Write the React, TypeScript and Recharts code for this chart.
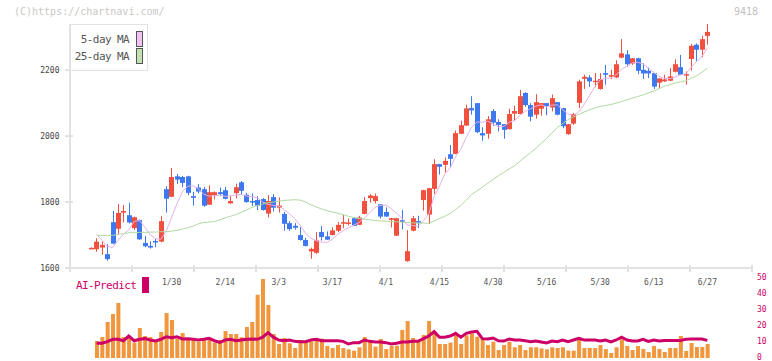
import React from 'react';
import { ComposedChart, Bar, Line, XAxis, YAxis } from 'recharts';

// trading days, 2025
const dates = [
  '1/8', '1/9', '1/10', '1/14', '1/15', '1/16', '1/17', '1/20', '1/21', '1/22', '1/23', '1/24', '1/27', '1/28', '1/29', '1/30', '1/31',
  '2/3', '2/4', '2/5', '2/6', '2/7', '2/10', '2/12', '2/13', '2/14', '2/17', '2/18', '2/19', '2/20', '2/21', '2/25', '2/26', '2/27', '2/28',
  '3/3', '3/4', '3/5', '3/6', '3/7', '3/10', '3/11', '3/12', '3/13', '3/14', '3/17', '3/18', '3/19', '3/21', '3/24', '3/25', '3/26', '3/27', '3/28', '3/31',
  '4/1', '4/2', '4/3', '4/4', '4/7', '4/8', '4/9', '4/10', '4/11', '4/14', '4/15', '4/16', '4/17', '4/18', '4/21', '4/22', '4/23', '4/24', '4/25', '4/28', '4/30',
  '5/1', '5/2', '5/7', '5/8', '5/9', '5/12', '5/13', '5/14', '5/15', '5/16', '5/19', '5/20', '5/21', '5/22', '5/23', '5/26', '5/27', '5/28', '5/29', '5/30',
  '6/2', '6/3', '6/4', '6/5', '6/6', '6/9', '6/10', '6/11', '6/12', '6/13', '6/16', '6/17', '6/18', '6/19', '6/20', '6/23', '6/24', '6/25', '6/26', '6/27',
];

const dateTicks = ['1/30', '2/14', '3/3', '3/17', '4/1', '4/15', '4/30', '5/16', '5/30', '6/13', '6/27'];
const priceTicks = [1600, 1800, 2000, 2200];
const volTicks = [0, 10, 20, 30, 40, 50];
const gridTicks = [0, 1, 2, 3, 4, 5, 6, 7, 8, 9, 10, 11];

const open = [
  1660, 1657, 1662, 1642, 1739, 1719, 1768, 1760, 1721, 1745,
  1676, 1667, 1682, 1680, 1839, 1816, 1878, 1876, 1878, 1818,
  1844, 1839, 1792, 1821, 1830, 1836, 1796, 1827, 1860, 1822,
  1803, 1806, 1809, 1765, 1815, 1783, 1764, 1736, 1728, 1700,
  1685, 1650, 1646, 1709, 1696, 1700, 1713, 1737, 1736, 1751,
  1731, 1764, 1812, 1803, 1793, 1770, 1746, 1698, 1745, 1621,
  1713, 1742, 1806, 1762, 1840, 1915, 1913, 1945, 1946, 2007,
  2032, 2085, 2100, 2009, 2007, 2076, 2043, 2036, 2021, 2068,
  2067, 2131, 2094, 2065, 2083, 2100, 2087, 2103, 2085, 2006,
  2038, 2101, 2174, 2178, 2166, 2143, 2191, 2180, 2178, 2238,
  2248, 2220, 2236, 2201, 2198, 2191, 2162, 2166, 2168, 2195,
  2209, 2186, 2234, 2277, 2262, 2304,
];
const high = [
  1663, 1690, 1680, 1672, 1773, 1794, 1791, 1798, 1756, 1747,
  1697, 1681, 1688, 1757, 1848, 1903, 1885, 1879, 1880, 1831,
  1854, 1846, 1851, 1832, 1844, 1846, 1818, 1856, 1864, 1828,
  1826, 1818, 1812, 1821, 1824, 1814, 1770, 1742, 1736, 1724,
  1691, 1662, 1709, 1727, 1711, 1724, 1739, 1761, 1750, 1753,
  1758, 1815, 1824, 1826, 1793, 1784, 1752, 1752, 1776, 1715,
  1758, 1758, 1837, 1843, 1930, 1916, 1935, 1973, 2017, 2047,
  2095, 2121, 2100, 2027, 2061, 2082, 2051, 2037, 2083, 2092,
  2140, 2133, 2100, 2127, 2100, 2101, 2126, 2103, 2085, 2037,
  2070, 2171, 2186, 2185, 2191, 2191, 2216, 2201, 2230, 2294,
  2261, 2237, 2238, 2221, 2208, 2191, 2175, 2186, 2206, 2233,
  2246, 2196, 2279, 2281, 2304, 2340,
];
const low = [
  1659, 1649, 1640, 1622, 1672, 1703, 1738, 1735, 1715, 1685,
  1663, 1659, 1663, 1678, 1768, 1815, 1855, 1845, 1821, 1789,
  1826, 1786, 1791, 1808, 1818, 1808, 1795, 1811, 1823, 1798,
  1788, 1776, 1774, 1753, 1771, 1768, 1713, 1713, 1716, 1683,
  1665, 1628, 1643, 1683, 1685, 1699, 1709, 1721, 1729, 1727,
  1730, 1763, 1798, 1796, 1750, 1756, 1723, 1697, 1717, 1619,
  1711, 1721, 1774, 1733, 1824, 1883, 1889, 1906, 1945, 2006,
  2031, 2065, 2009, 1986, 1992, 2031, 2014, 1992, 2020, 2046,
  2066, 2089, 2045, 2053, 2062, 2063, 2075, 2063, 2024, 2004,
  2034, 2085, 2143, 2149, 2148, 2141, 2156, 2173, 2176, 2236,
  2211, 2216, 2188, 2173, 2176, 2143, 2143, 2164, 2167, 2193,
  2185, 2156, 2199, 2228, 2239, 2277,
];
const close = [
  1661, 1680, 1670, 1627, 1674, 1767, 1773, 1738, 1754, 1687,
  1666, 1662, 1678, 1742, 1810, 1876, 1868, 1858, 1828, 1813,
  1832, 1789, 1830, 1830, 1824, 1810, 1803, 1845, 1834, 1800,
  1799, 1789, 1776, 1803, 1783, 1789, 1734, 1718, 1722, 1685,
  1667, 1658, 1684, 1694, 1686, 1714, 1731, 1739, 1738, 1728,
  1753, 1803, 1820, 1818, 1756, 1756, 1751, 1751, 1740, 1651,
  1751, 1738, 1836, 1842, 1915, 1907, 1925, 1931, 2009, 2033,
  2084, 2078, 2012, 2002, 2051, 2041, 2034, 2019, 2067, 2076,
  2121, 2094, 2059, 2103, 2100, 2091, 2115, 2065, 2030, 2036,
  2067, 2166, 2180, 2166, 2168, 2173, 2186, 2185, 2218, 2251,
  2218, 2236, 2198, 2190, 2190, 2150, 2175, 2172, 2181, 2218,
  2186, 2188, 2274, 2262, 2294, 2316,
];
const ma5 = [
  null, 1702, 1684, 1666, 1662, 1684, 1702, 1716, 1741, 1744,
  1724, 1701, 1689, 1687, 1712, 1754, 1795, 1831, 1848, 1849,
  1840, 1824, 1818, 1819, 1821, 1817, 1819, 1822, 1823, 1818,
  1816, 1813, 1800, 1793, 1790, 1788, 1777, 1765, 1749, 1730,
  1705, 1690, 1683, 1678, 1678, 1687, 1702, 1713, 1722, 1730,
  1738, 1752, 1768, 1784, 1790, 1791, 1780, 1766, 1751, 1730,
  1729, 1726, 1743, 1764, 1816, 1848, 1885, 1904, 1937, 1961,
  1996, 2027, 2043, 2042, 2045, 2037, 2028, 2029, 2042, 2047,
  2063, 2075, 2083, 2091, 2095, 2089, 2094, 2095, 2080, 2067,
  2063, 2073, 2096, 2123, 2149, 2171, 2175, 2176, 2186, 2203,
  2212, 2222, 2224, 2219, 2206, 2193, 2181, 2175, 2174, 2179,
  2186, 2189, 2209, 2226, 2241, 2267,
];
const ma25 = [
  null, 1699, 1699, 1698, 1699, 1702, 1704, 1707, 1707, 1708,
  1708, 1709, 1709, 1710, 1710, 1712, 1714, 1718, 1722, 1727,
  1734, 1738, 1739, 1741, 1746, 1752, 1757, 1762, 1769, 1776,
  1784, 1789, 1794, 1798, 1800, 1803, 1805, 1806, 1807, 1806,
  1800, 1792, 1785, 1779, 1774, 1770, 1766, 1762, 1757, 1753,
  1750, 1748, 1746, 1744, 1743, 1742, 1741, 1740, 1739, 1738,
  1737, 1736, 1736, 1736, 1742, 1750, 1757, 1765, 1777, 1790,
  1806, 1823, 1834, 1845, 1857, 1868, 1880, 1890, 1900, 1910,
  1923, 1937, 1950, 1963, 1978, 1993, 2010, 2026, 2038, 2050,
  2058, 2066, 2073, 2080, 2085, 2090, 2093, 2096, 2100, 2105,
  2110, 2115, 2120, 2125, 2131, 2137, 2144, 2151, 2156, 2161,
  2165, 2168, 2175, 2183, 2194, 2206,
];
const volume = [
  null, 10.6, 13.1, 22.5, 27.5, 34.4, 13.1, 13, 9.6, 18.75,
  13.75, 13.1, 11.25, 16.25, 28.1, 23.75, 12.1, 15.6, 12.1, 11.25,
  10.2, 12.1, 11.25, 9.6, 11.25, 16.9, 15, 15, 13, 19.4,
  22.5, 39.6, 49.4, 33.1, 15, 8.75, 12.5, 9.2, 6.25, 11.25,
  10.4, 10.4, 12.3, 12.1, 7.5, 6.25, 8.1, 6.25, 5.4, 4.6,
  6.7, 13.1, 10.4, 7.1, 11.9, 5.6, 7.5, 7.7, 17.5, 23.1,
  12.5, 10.4, 14.4, 23.1, 16.9, 8.75, 8.75, 9.6, 14.4, 8.75,
  14.2, 15.4, 13.3, 12.1, 8.1, 10.2, 5, 8.1, 10.2, 6.7,
  8.1, 5, 6.7, 6.7, 6, 5.4, 6.7, 6.25, 6.7, 4.6,
  4.6, 11.25, 6.25, 6.25, 6.25, 8.1, 5.6, 3.1, 6.7, 11.7,
  7.5, 5, 7.5, 5.6, 3.75, 7.5, 5.6, 3.75, 6.25, 6.25,
  13.75, 4.4, 9.4, 6.9, 6.9, 8.75,
];
const aiPredict = [
  null, 9.2, 9.2, 10.2, 11.7, 11.7, 10.8, 13.75, 10.8, 11.7,
  12.1, 11.25, 10.6, 11.7, 13.3, 12.7, 13.3, 11.9, 12.1, 11.7,
  11.25, 11.7, 12.3, 10.8, 9.8, 11.25, 11.7, 10.8, 11.25, 11.7,
  11.9, 11.7, 13, 15.8, 13, 11.25, 10.8, 11.25, 10.4, 10.2,
  10.2, 11.25, 11.7, 10.8, 10.8, 10.8, 10.8, 10.4, 8.75, 9.6,
  9.6, 11.25, 10.4, 10, 10, 9.6, 8.75, 9.2, 10, 10,
  10.4, 10.4, 12.1, 13.75, 16.5, 13, 13, 13.75, 15.4, 13,
  15.4, 16.25, 16.7, 12.1, 11.9, 12.5, 10.8, 10.6, 11.9, 11.25,
  11.25, 10.8, 10.2, 10.6, 10, 9.4, 10.6, 10.2, 11.25, 10.2,
  11.25, 12.3, 11.25, 11.25, 11.25, 10.6, 11.25, 10, 11.25, 13,
  11.25, 10.6, 10.6, 11.7, 10.4, 11.25, 10.6, 11, 11, 11,
  11, 11.7, 11.9, 11.9, 11.9, 11,
];

const rows = dates.map((date, i) => ({
  date,
  open: open[i],
  high: high[i],
  low: low[i],
  close: close[i],
  ma5: ma5[i],
  ma25: ma25[i],
  volume: volume[i],
  ai: aiPredict[i],
}));

const RED = '#f2503e';
const BLUE = '#3d78f0';
const AXIS = '#e2e2e2';
const MAGENTA = '#cc0066';
const MONO = '"DejaVu Sans Mono", "Liberation Mono", monospace';
const PAD = { left: 18.6, right: 42 };

function Candle(props: any) {
  const { x, y, width, height, payload } = props;
  const { open: o, close: c, high: h, low: l } = payload;
  const cx = Math.round(x + width / 2);
  const k = h > l ? height / (h - l) : 0;
  const yOf = (v: number) => y + (h - v) * k;
  const color = c >= o ? RED : BLUE;
  const top = yOf(Math.max(o, c));
  const bot = yOf(Math.min(o, c));
  return (
    <g>
      <line x1={cx + 0.5} x2={cx + 0.5} y1={y} y2={y + height} stroke={color} strokeWidth={1} />
      <rect x={cx - 2} y={top} width={5} height={Math.max(bot - top, 1.5)} fill={color} />
    </g>
  );
}

function GridTick(props: any) {
  const { x, y } = props;
  return <line x1={x} x2={x} y1={y - 4} y2={y + 3} stroke={AXIS} strokeWidth={2} />;
}

function PriceTick(props: any) {
  const { x, y, payload } = props;
  return (
    <g>
      <line x1={x - 5} x2={x + 3} y1={y} y2={y} stroke={AXIS} strokeWidth={2} />
      <text x={x - 10.5} y={y} dy="0.35em" textAnchor="end" fontSize={8} fill="#444" fontFamily={MONO}>
        {payload.value}
      </text>
    </g>
  );
}

function VolTick(props: any) {
  const { x, y, payload } = props;
  return (
    <text x={x} y={y} dy={2.3} textAnchor="start" fontSize={8} fill={MAGENTA} fontFamily={MONO}>
      {payload.value}
    </text>
  );
}

const abs = (s: React.CSSProperties): React.CSSProperties => ({ position: 'absolute', ...s });

export default function App() {
  return (
    <div style={abs({ left: 0, top: 0, width: 772, height: 361, background: '#fff', overflow: 'hidden' })}>
      <div style={abs({ left: 0, top: 0 })}>
        <ComposedChart width={772} height={361} data={rows} margin={{ top: 278, right: 0, bottom: 3, left: 70 }}>
          <XAxis dataKey="date" hide height={0} padding={PAD} />
          <YAxis
            orientation="right"
            domain={[0, 50]}
            ticks={volTicks}
            interval={0}
            width={20}
            axisLine={false}
            tickLine={false}
            tickSize={0}
            tickMargin={5}
            tick={VolTick}
          />
          <Bar dataKey="volume" fill="#f0963c" barSize={4} isAnimationActive={false} />
          <Line dataKey="ai" stroke={MAGENTA} strokeWidth={3} dot={false} type="linear" isAnimationActive={false} />
        </ComposedChart>
      </div>
      <div style={abs({ left: 0, top: 0 })}>
        <ComposedChart width={772} height={361} data={rows} margin={{ top: 24, right: 20, bottom: 91, left: 0 }}>
          <XAxis
            xAxisId="d"
            dataKey="date"
            height={1}
            padding={PAD}
            ticks={dateTicks}
            interval={0}
            tickLine={false}
            tickSize={0}
            tickMargin={11}
            axisLine={{ stroke: AXIS, strokeWidth: 2 }}
            tick={{ fontSize: 8, fill: '#555', fontFamily: MONO }}
          />
          <XAxis
            xAxisId="g"
            type="number"
            dataKey="g"
            domain={[0, 11]}
            allowDataOverflow
            ticks={gridTicks}
            interval={0}
            height={1}
            axisLine={false}
            tickLine={false}
            tickSize={0}
            tickMargin={0}
            tick={GridTick}
          />
          <YAxis
            domain={[1600, 2340]}
            ticks={priceTicks}
            interval={0}
            width={70}
            axisLine={{ stroke: AXIS, strokeWidth: 2 }}
            tickLine={false}
            tickSize={0}
            tickMargin={0}
            tick={PriceTick}
          />
          <Bar xAxisId="d" dataKey={(d: any) => [d.low, d.high]} shape={Candle} isAnimationActive={false} />
          <Line xAxisId="d" dataKey="ma5" stroke="#e6b2e6" strokeWidth={1} dot={false} type="linear" isAnimationActive={false} />
          <Line xAxisId="d" dataKey="ma25" stroke="#b2d8a2" strokeWidth={1} dot={false} type="linear" isAnimationActive={false} />
        </ComposedChart>
      </div>

      <div style={abs({ left: 14, top: 6, fontFamily: MONO, fontSize: 10, color: '#c8c8c8', lineHeight: '12px' })}>
        (C)https://chartnavi.com/
      </div>
      <div style={abs({ right: 14, top: 6, fontFamily: MONO, fontSize: 10, color: '#c0c0c0', lineHeight: '12px' })}>
        9418
      </div>

      <div
        style={abs({
          left: 70,
          top: 24,
          width: 76,
          height: 45,
          border: `1px solid ${AXIS}`,
          background: '#fff',
          fontFamily: MONO,
          fontSize: 11,
          letterSpacing: '-0.6px',
          color: '#555',
        })}
      >
        <div style={abs({ right: 18, top: 9, lineHeight: '12px' })}>5-day MA</div>
        <div style={abs({ left: 65, top: 6, width: 5, height: 14, background: '#f2c2f2', border: '1px solid #555' })} />
        <div style={abs({ right: 18, top: 26, lineHeight: '12px' })}>25-day MA</div>
        <div style={abs({ left: 65, top: 23, width: 5, height: 14, background: '#c2e2b2', border: '1px solid #555' })} />
      </div>

      <div style={abs({ left: 76, top: 280, fontFamily: MONO, fontSize: 11, letterSpacing: '-0.6px', color: MAGENTA, lineHeight: '12px' })}>
        AI-Predict
      </div>
      <div style={abs({ left: 142, top: 277, width: 7, height: 16, background: MAGENTA })} />
    </div>
  );
}
